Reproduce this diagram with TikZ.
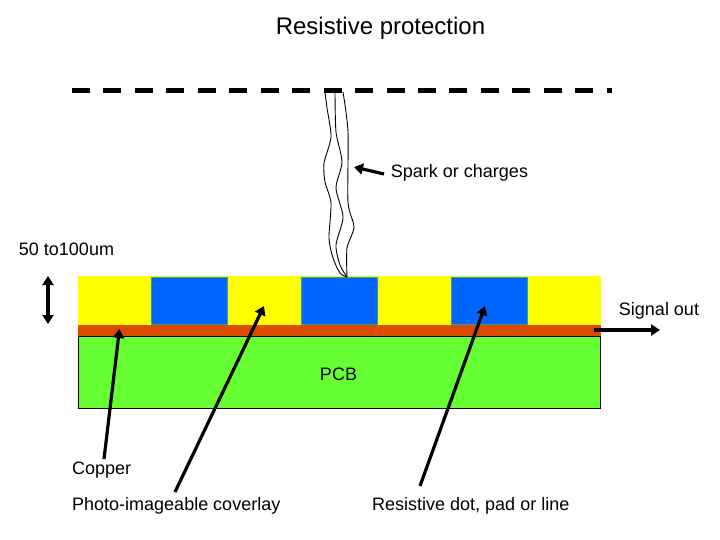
\documentclass[tikz,border=0pt]{standalone}
\usepackage{fontspec}
\setmainfont{Liberation Sans}
\usetikzlibrary{arrows.meta}
\definecolor{covery}{HTML}{FFFF00}
\definecolor{dotblue}{HTML}{0066FF}
\definecolor{dotedge}{HTML}{2FA0A0}
\definecolor{copperc}{HTML}{DD4B00}
\definecolor{pcbg}{HTML}{66FF33}
\tikzset{
  layer/.style={anchor=north west,inner sep=0pt,outer sep=0pt,minimum height=#1},
  dotbox/.style={layer=47pt,minimum width=76.5pt,fill=dotblue,draw=dotedge,line width=0.5pt},
  lbl/.style={font=\fontsize{18}{20}\selectfont,inner sep=0pt,text=black},
  bigarrow/.style={line width=3.2pt,-{Triangle[length=9pt,width=11pt]}},
  spark/.style={line width=0.9pt,smooth,tension=0.45},
  dblarrow/.style={line width=3.2pt,{Triangle[length=9pt,width=11pt]}-{Triangle[length=9pt,width=11pt]}}
}
\begin{document}
\begin{tikzpicture}[x=1pt,y=-1pt]
\useasboundingbox (0,0) rectangle (720,540);
% layers
\node[layer=49pt,minimum width=523pt,fill=covery] (cover) at (78,276) {};
\node[dotbox] (dotA) at (151,277) {};
\node[dotbox] (dotB) at (301,277) {};
\node[dotbox] (dotC) at (451,277) {};
\node[layer=11pt,minimum width=523pt,fill=copperc] (copper) at (78,325) {};
\node[layer=72pt,minimum width=522pt,fill=pcbg,draw=black,line width=0.8pt] (pcb) at (78.5,336) {};
% mesh
\coordinate (meshL) at (72,90.3);
\coordinate (meshR) at (612,90.3);
\draw[line width=4.6pt,dash pattern=on 18pt off 13.45pt] (meshL) -- (meshR);
% sparks
\draw[spark] plot coordinates {(325,92) (327,108) (331,137) (324,163) (325,182) (331,203) (329,238) (333,258) (340,273) (347,277)};
\draw[spark] plot coordinates {(335,92) (336,132) (342,162) (336,188) (343,217) (336,245) (340,265) (347,277)};
\draw[spark] plot coordinates {(343,92) (348,132) (348,202) (354,227) (347,248) (347,277)};
% labels
\node[font=\fontsize{24}{28}\selectfont,inner sep=0pt] (title) at (380.5,28.5) {Resistive protection};
\node[lbl] (spark) at (459.5,172.5) {Spark or charges};
\node[lbl] (thick) at (66.5,249.5) {50 to100um};
\node[lbl] (signal) at (659,310.5) {Signal out};
\node[lbl] (pcblabel) at (338.5,374) {PCB};
\node[lbl,anchor=west] (copperlabel) at (72,470) {Copper};
\node[lbl,anchor=west] (photo) at (72,505.5) {Photo-imageable coverlay};
\node[lbl,anchor=west] (resist) at (372,505.5) {Resistive dot, pad or line};
% arrows
\coordinate (sparkTip) at (354,167);
\coordinate (sparkTail) at (384,174);
\draw[bigarrow] (sparkTail) -- (sparkTip);
\coordinate (dblTop) at (48,276);
\coordinate (dblBot) at (48,324);
\draw[dblarrow] (dblTop) -- (dblBot);
\coordinate (sigTail) at (594,330);
\coordinate (sigTip) at (660,330);
\draw[bigarrow] (sigTail) -- (sigTip);
\coordinate (copTail) at (104,459);
\coordinate (copTip) at (119.5,329);
\draw[bigarrow] (copTail) -- (copTip);
\coordinate (phoTail) at (175,492);
\coordinate (phoTip) at (264,306);
\draw[bigarrow] (phoTail) -- (phoTip);
\coordinate (resTail) at (420,486);
\coordinate (resTip) at (485,306);
\draw[bigarrow] (resTail) -- (resTip);
\end{tikzpicture}
\end{document}
